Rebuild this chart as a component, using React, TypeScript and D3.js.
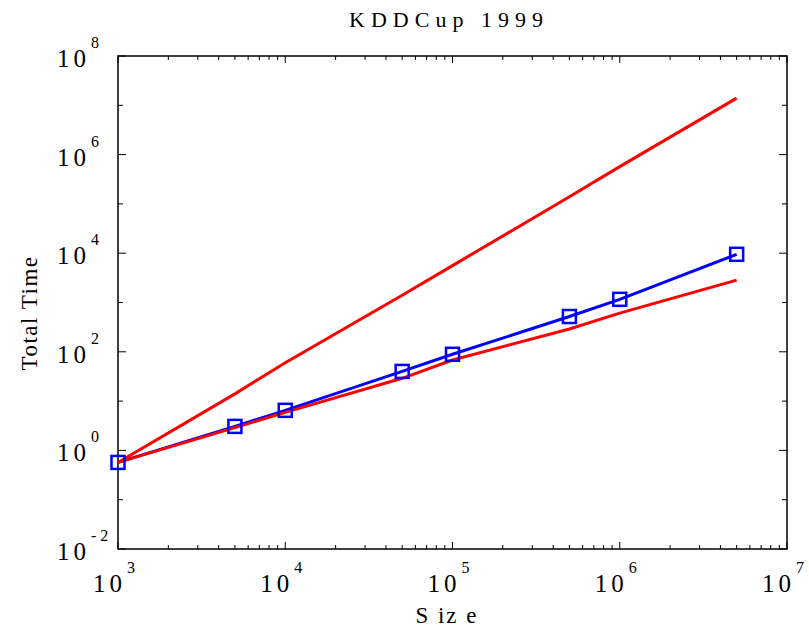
import React from "react";
import * as d3 from "d3";

const sizes = [1e3, 5e3, 1e4, 5e4, 1e5, 5e5, 1e6, 5e6];
const measured = [0.57, 3.07, 6.5, 40, 89, 520, 1160, 9500];
const upperBound = [0.57, 14, 60, 1400, 5600, 1.4e5, 5.7e5, 1.4e7];
const lowerBound = [0.57, 2.9, 5.9, 29, 68, 290, 610, 2850];
const xTickExps = [3, 4, 5, 6, 7];
const yTickExps = [-2, 0, 2, 4, 6, 8];

const W = 809, H = 631;
const L = 118, R = 787, T = 56, B = 549;

export default function App() {
  const x = d3.scaleLog().domain([1e3, 1e7]).range([L, R]);
  const y = d3.scaleLog().domain([1e-2, 1e8]).range([B, T]);
  const line = d3.line<number>().x((_, i) => x(sizes[i])).y((v) => y(v));

  const xMinor: number[] = [];
  for (let e = 3; e < 7; e++) for (let k = 2; k <= 9; k++) xMinor.push(k * Math.pow(10, e));
  const yMinor = [-1, 1, 3, 5, 7].map((e) => Math.pow(10, e));
  const font = "'Liberation Serif', 'Times New Roman', serif";

  return (
    <svg width={W} height={H} style={{ position: "absolute", left: 0, top: 0, background: "#fff" }}>
      <rect x={0} y={0} width={W} height={H} fill="#fff" />
      <g stroke="#000" strokeWidth={1}>
        {xMinor.map((v, i) => (
          <g key={"xm" + i}>
            <line x1={x(v)} x2={x(v)} y1={B} y2={B - 4} />
            <line x1={x(v)} x2={x(v)} y1={T} y2={T + 4} />
          </g>
        ))}
        {xTickExps.map((e) => (
          <g key={"xM" + e}>
            <line x1={x(Math.pow(10, e))} x2={x(Math.pow(10, e))} y1={B} y2={B - 7} />
            <line x1={x(Math.pow(10, e))} x2={x(Math.pow(10, e))} y1={T} y2={T + 7} />
          </g>
        ))}
        {yMinor.map((v, i) => (
          <g key={"ym" + i}>
            <line x1={L} x2={L + 5} y1={y(v)} y2={y(v)} />
            <line x1={R} x2={R - 5} y1={y(v)} y2={y(v)} />
          </g>
        ))}
        {yTickExps.map((e) => (
          <g key={"yM" + e}>
            <line x1={L} x2={L + 8} y1={y(Math.pow(10, e))} y2={y(Math.pow(10, e))} />
            <line x1={R} x2={R - 8} y1={y(Math.pow(10, e))} y2={y(Math.pow(10, e))} />
          </g>
        ))}
      </g>
      <rect x={L} y={T} width={R - L} height={B - T} fill="none" stroke="#000" strokeWidth={1.5} />
      <path d={line(upperBound) || ""} fill="none" stroke="#ff0000" strokeWidth={3} />
      <path d={line(measured) || ""} fill="none" stroke="#0000ff" strokeWidth={3} />
      <path d={line(lowerBound) || ""} fill="none" stroke="#ff0000" strokeWidth={3} />
      {measured.map((v, i) => (
        <rect key={"m" + i} x={x(sizes[i]) - 6.5} y={y(v) - 6.5} width={13} height={13}
          fill="none" stroke="#0000ff" strokeWidth={2.5} />
      ))}
      <g fontFamily={font} fill="#000">
        {xTickExps.map((e) => (
          <text key={"xl" + e} x={x(Math.pow(10, e)) - 2} y={592} fontSize={25} textAnchor="middle" letterSpacing={4}>
            10
            <tspan fontSize={16} dx={1} dy={-19}>{e}</tspan>
          </text>
        ))}
        {yTickExps.map((e) => (
          <text key={"yl" + e} x={57} y={y(Math.pow(10, e)) + 11} fontSize={25} letterSpacing={4}>
            10
            <tspan fontSize={16} dx={1} dy={-19}>{e}</tspan>
          </text>
        ))}
        <text x={449} y={27} fontSize={22} textAnchor="middle" letterSpacing={6}>KDDCup 1999</text>
        <text x={447} y={623} fontSize={23} textAnchor="middle" letterSpacing={2}>S iz e</text>
        <text transform={`translate(37, 313) rotate(-90)`} fontSize={23} textAnchor="middle" letterSpacing={1.5}>Total Time</text>
      </g>
    </svg>
  );
}
